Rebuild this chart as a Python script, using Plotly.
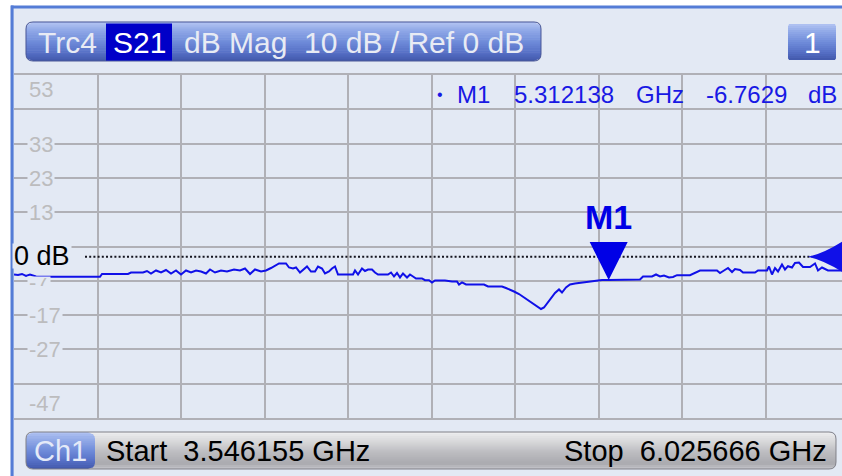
import math
import plotly.graph_objects as go

START_GHZ = 3.546155
STOP_GHZ = 6.025666
REF_DB = 0
DB_PER_DIV = 10
TRACE_NAME = "Trc4"
PARAM = "S21"
FORMAT = "dB Mag"
CHANNEL = "Ch1"
WINDOW = "1"
MARKER_NAME = "M1"
MARKER_GHZ = 5.312138
MARKER_DB = -6.7629
Y_LABELS = [53, 33, 23, 13, -7, -17, -27, -47]

freq_ghz = [
    3.5462, 3.5580, 3.5699, 3.5818, 3.5937, 3.6115, 3.6293, 3.8015, 3.8075, 3.8847,
    3.8936, 3.9292, 3.9411, 3.9530, 3.9678, 3.9827, 3.9975, 4.0124, 4.0272, 4.0421,
    4.0569, 4.0718, 4.0866, 4.1015, 4.1163, 4.1282, 4.1430, 4.1608, 4.1787, 4.1994,
    4.2173, 4.2321, 4.2470, 4.2618, 4.2796, 4.2945, 4.3093, 4.3212, 4.3331, 4.3539,
    4.3628, 4.3746, 4.3836, 4.3954, 4.4073, 4.4162, 4.4281, 4.4400, 4.4489, 4.4608,
    4.4697, 4.4815, 4.4905, 4.4994, 4.5083, 4.5528, 4.5588, 4.5677, 4.5795, 4.5884,
    4.5974, 4.6092, 4.6181, 4.6271, 4.6567, 4.6657, 4.6746, 4.6835, 4.6924, 4.7013,
    4.7132, 4.7221, 4.7310, 4.7399, 4.7577, 4.7666, 4.7785, 4.7874, 4.7963, 4.8260,
    4.8468, 4.8616, 4.8676, 4.8765, 4.8884, 4.9418, 4.9537, 4.9953, 5.0071, 5.0190,
    5.0309, 5.0458, 5.0606, 5.0784, 5.0962, 5.1111, 5.1200, 5.1319, 5.1408, 5.1527,
    5.1645, 5.1734, 5.1853, 5.1972, 5.2120, 5.2477, 5.2774, 5.2922, 5.312138, 5.4051,
    5.4140, 5.4407, 5.4526, 5.4645, 5.4763, 5.4912, 5.5031, 5.5149, 5.5535, 5.5654,
    5.5832, 5.6337, 5.6426, 5.6545, 5.6664, 5.6783, 5.6872, 5.7020, 5.7109, 5.7466,
    5.7555, 5.7822, 5.7881, 5.7970, 5.8059, 5.8149, 5.8267, 5.8356, 5.8445, 5.8564,
    5.8653, 5.8772, 5.8891, 5.9099, 5.9247, 5.9336, 5.9455, 5.9633, 6.0049, 6.0257,
]
s21_db = [
    -5.16, -5.31, -5.01, -5.60, -5.16, -5.74, -5.83, -5.83, -5.01, -5.01,
    -4.58, -4.58, -4.14, -4.87, -3.99, -4.58, -3.85, -4.87, -3.99, -5.16,
    -3.99, -4.58, -3.99, -4.29, -4.87, -3.70, -4.58, -3.99, -4.29, -3.70,
    -3.99, -3.41, -5.01, -3.70, -4.29, -3.99, -3.27, -2.54, -1.95, -1.95,
    -3.12, -3.41, -3.12, -4.58, -3.41, -2.83, -4.29, -4.29, -2.83, -3.41,
    -4.87, -4.29, -3.41, -2.83, -5.16, -5.16, -3.99, -5.16, -3.41, -4.14,
    -3.70, -3.70, -4.58, -5.16, -5.16, -4.58, -5.74, -4.72, -6.03, -4.87,
    -6.03, -5.16, -5.74, -6.33, -6.33, -6.82, -6.82, -7.49, -6.91, -6.91,
    -7.20, -7.20, -8.08, -7.49, -8.08, -8.08, -8.66, -8.66, -9.10, -9.53,
    -10.12, -10.85, -11.87, -13.03, -14.20, -15.22, -14.78, -13.32, -12.16, -10.55,
    -9.53, -10.41, -8.95, -8.08, -7.78, -7.35, -6.90, -6.80, -6.7629, -6.62,
    -5.74, -5.74, -5.16, -5.74, -5.45, -6.03, -5.89, -5.36, -5.36, -4.87,
    -3.99, -3.99, -4.72, -3.99, -3.27, -4.43, -3.56, -3.85, -4.58, -4.58,
    -3.99, -3.99, -2.83, -5.16, -3.27, -4.29, -2.24, -3.70, -2.74, -3.12,
    -1.81, -1.66, -2.97, -2.97, -1.95, -3.99, -3.12, -3.99, -4.14, -3.99,
]

# ---------------- layout geometry (pixels) ----------------
W, H = 842, 476
L, R, T, B = 14, 842, 75, 418          # visible grid area
FULL_W = 835                            # grid width incl. part cut off at right
FONT = "Liberation Sans, Arial, sans-serif"
PANEL = "rgb(227,233,244)"
GRID = "rgb(176,176,182)"
BLUE = "rgb(16,16,232)"


def px(x):
    return (x - L) / (R - L)


def py(y):
    return (B - y) / (B - T)


def fmt(v):
    return "%.5f" % v


def lerp_color(stops, t):
    for (t0, c0), (t1, c1) in zip(stops, stops[1:]):
        if t <= t1:
            f = (t - t0) / (t1 - t0) if t1 > t0 else 0
            return "rgb(%d,%d,%d)" % tuple(round(a + (b - a) * f) for a, b in zip(c0, c1))
    return "rgb(%d,%d,%d)" % stops[-1][1]


def grad_box(x1, y1, x2, y2, r, stops, n=18):
    out = []

    def inset(y):
        d = min(y - y1, y2 - y)
        if d >= r:
            return 0.0
        d = max(d, 0.0)
        return r - math.sqrt(max(r * r - (r - d) ** 2, 0.0))

    for i in range(n):
        ya = y1 + (y2 - y1) * i / n
        yb = y1 + (y2 - y1) * (i + 1) / n
        ia, ib = inset(ya), inset(yb)
        yb2 = min(yb + 0.5, y2)
        path = (f"M{fmt(px(x1 + ia))},{fmt(py(ya))} L{fmt(px(x2 - ia))},{fmt(py(ya))} "
                f"L{fmt(px(x2 - ib))},{fmt(py(yb2))} L{fmt(px(x1 + ib))},{fmt(py(yb2))} Z")
        out.append(dict(type="path", path=path, xref="paper", yref="paper",
                        fillcolor=lerp_color(stops, (i + 0.5) / n), line=dict(width=0)))
    return out


def round_outline(x1, y1, x2, y2, r, color, width=1):
    p = (f"M{fmt(px(x1 + r))},{fmt(py(y1))} L{fmt(px(x2 - r))},{fmt(py(y1))} "
         f"Q{fmt(px(x2))},{fmt(py(y1))} {fmt(px(x2))},{fmt(py(y1 + r))} "
         f"L{fmt(px(x2))},{fmt(py(y2 - r))} "
         f"Q{fmt(px(x2))},{fmt(py(y2))} {fmt(px(x2 - r))},{fmt(py(y2))} "
         f"L{fmt(px(x1 + r))},{fmt(py(y2))} "
         f"Q{fmt(px(x1))},{fmt(py(y2))} {fmt(px(x1))},{fmt(py(y2 - r))} "
         f"L{fmt(px(x1))},{fmt(py(y1 + r))} "
         f"Q{fmt(px(x1))},{fmt(py(y1))} {fmt(px(x1 + r))},{fmt(py(y1))} Z")
    return dict(type="path", path=p, xref="paper", yref="paper",
                line=dict(color=color, width=width), fillcolor="rgba(0,0,0,0)")


BLUE_STOPS = [(0.0, (178, 196, 242)), (0.2, (146, 170, 232)), (0.5, (112, 140, 218)),
              (0.8, (84, 110, 196)), (1.0, (66, 88, 170))]
GREY_STOPS = [(0.0, (238, 238, 240)), (0.25, (216, 216, 218)), (0.55, (188, 188, 192)),
              (0.85, (170, 170, 175)), (1.0, (196, 196, 202))]

fig = go.Figure()
fig.add_trace(go.Scatter(x=freq_ghz, y=s21_db, mode="lines",
                         line=dict(color=BLUE, width=2), hoverinfo="skip"))

shapes = []
# instrument panel background and blue frame
shapes.append(dict(type="rect", xref="paper", yref="paper", layer="below",
                   x0=px(11), x1=px(W), y0=py(6), y1=py(H), fillcolor=PANEL, line=dict(width=0)))
# title bar
shapes += grad_box(26, 22, 541, 61, 7, BLUE_STOPS)
shapes.append(round_outline(26, 22, 541, 61, 7, "rgb(72,86,150)"))
shapes.append(dict(type="rect", xref="paper", yref="paper", x0=px(106), x1=px(172),
                   y0=py(23.5), y1=py(60.5), fillcolor="rgb(0,0,200)", line=dict(width=0)))
# window number box
shapes += grad_box(788, 24, 836, 60, 1, BLUE_STOPS)
# channel bar
shapes += grad_box(26, 432, 836, 469, 7, GREY_STOPS)
shapes += grad_box(26, 432, 95, 469, 7, BLUE_STOPS)
shapes.append(round_outline(26, 432, 836, 469, 7, "rgb(128,128,136)"))
# frame lines
shapes.append(dict(type="rect", xref="paper", yref="paper", x0=px(11), x1=px(W),
                   y0=py(5.5), y1=py(8.5), fillcolor="rgb(84,124,214)", line=dict(width=0)))
shapes.append(dict(type="rect", xref="paper", yref="paper", x0=px(10.5), x1=px(13.6),
                   y0=py(5.5), y1=py(H), fillcolor="rgb(84,124,214)", line=dict(width=0)))

# reference level dotted line and arrow
shapes.append(dict(type="line", xref="paper", yref="y", x0=px(85), x1=px(812),
                   y0=REF_DB, y1=REF_DB, line=dict(color="rgb(20,20,30)", width=2, dash="2px,2.2px")))
shapes.append(dict(type="path", xref="paper", yref="y", ysizemode="pixel", yanchor=REF_DB,
                   path=(f"M{fmt(px(808))},0 Q{fmt(px(826))},4 {fmt(px(848))},19 "
                         f"L{fmt(px(848))},-19 Q{fmt(px(826))},-4 {fmt(px(808))},0 Z"),
                   fillcolor=BLUE, line=dict(width=0)))
# marker triangle
shapes.append(dict(type="path", xref="x", yref="y", xsizemode="pixel", ysizemode="pixel",
                   xanchor=MARKER_GHZ, yanchor=MARKER_DB,
                   path="M-19,38 L19,38 L0,0 Z", fillcolor="rgb(0,0,230)", line=dict(width=0)))

ann = []


def text(t, x, y, size, color, xanchor="left", xref="paper", yref="paper", yshift=0, **kw):
    ann.append(dict(text=t, x=x, y=y, xref=xref, yref=yref, xanchor=xanchor, yanchor="middle",
                    showarrow=False, yshift=yshift,
                    font=dict(family=FONT, size=size, color=color), **kw))


TITLE_C = "rgb(232,235,244)"
text(TRACE_NAME, px(36), py(42), 30, TITLE_C)
text(PARAM, px(139), py(42), 30, "white", xanchor="center")
text(FORMAT, px(182), py(42), 30, TITLE_C)
text(f"{DB_PER_DIV} dB / Ref {REF_DB} dB", px(302), py(42), 30, TITLE_C)
text(WINDOW, px(812), py(42), 30, "white", xanchor="center")

text(CHANNEL, px(60.5), py(451), 29, "rgb(228,234,248)", xanchor="center")
text(f"Start\u00a0\u00a0{START_GHZ:.6f}\u00a0GHz", px(104), py(451), 29, "black")
text(f"Stop\u00a0\u00a0{STOP_GHZ:.6f}\u00a0GHz", px(829), py(451), 29, "black", xanchor="right")

MK_C = "rgb(24,24,228)"
text("\u2022", px(440), py(95), 16, MK_C, xanchor="center")
text(MARKER_NAME, px(455), py(95), 24, MK_C)
text(f"{MARKER_GHZ:.6f}", px(512), py(95), 24, MK_C)
text("GHz", px(634), py(95), 24, MK_C)
text(f"{MARKER_DB:.4f}", px(704), py(95), 24, MK_C)
text("dB", px(839), py(95), 24, MK_C, xanchor="right")

for v in Y_LABELS:
    if v == Y_LABELS[0] or v == Y_LABELS[-1]:
        shift = -14.5 if v == Y_LABELS[0] else 14.5
        text(str(v), px(27), v, 22, "rgb(188,188,190)", yref="y", yshift=shift)
    else:
        # label box masks the grid line behind it
        text(str(v), px(27), v, 22, "rgb(188,188,190)", yref="y",
             bgcolor=PANEL, height=8 if v == -7 else 20, yshift=-1 if v == -7 else 0)
text(f"{REF_DB} dB", px(12), REF_DB, 27, "black", yref="y", bgcolor=PANEL, height=22, yshift=1)
text(f"<b>{MARKER_NAME}</b>", MARKER_GHZ, MARKER_DB, 34, "rgb(0,0,230)",
     xanchor="center", xref="x", yref="y", yshift=63)

span = STOP_GHZ - START_GHZ
fig.update_layout(
    width=W, height=H,
    margin=dict(l=L, r=W - R, t=T, b=H - B, autoexpand=False),
    paper_bgcolor="white", plot_bgcolor=PANEL,
    showlegend=False,
    shapes=shapes, annotations=ann,
    xaxis=dict(range=[START_GHZ, START_GHZ + span * (R - L) / FULL_W],
               tick0=START_GHZ, dtick=span / 10, showgrid=True, gridcolor=GRID, gridwidth=1.6,
               showticklabels=False, ticks="", zeroline=False,
               showline=True, mirror=True, linecolor=GRID, linewidth=1.6, fixedrange=True),
    yaxis=dict(range=[Y_LABELS[-1], Y_LABELS[0]], tick0=Y_LABELS[0], dtick=DB_PER_DIV,
               showgrid=True, gridcolor=GRID, gridwidth=1.6, showticklabels=False, ticks="",
               zeroline=False, showline=False, fixedrange=True),
)

fig.write_html("out.html", config={"displayModeBar": False},
               post_script="document.body.style.margin='0';")
